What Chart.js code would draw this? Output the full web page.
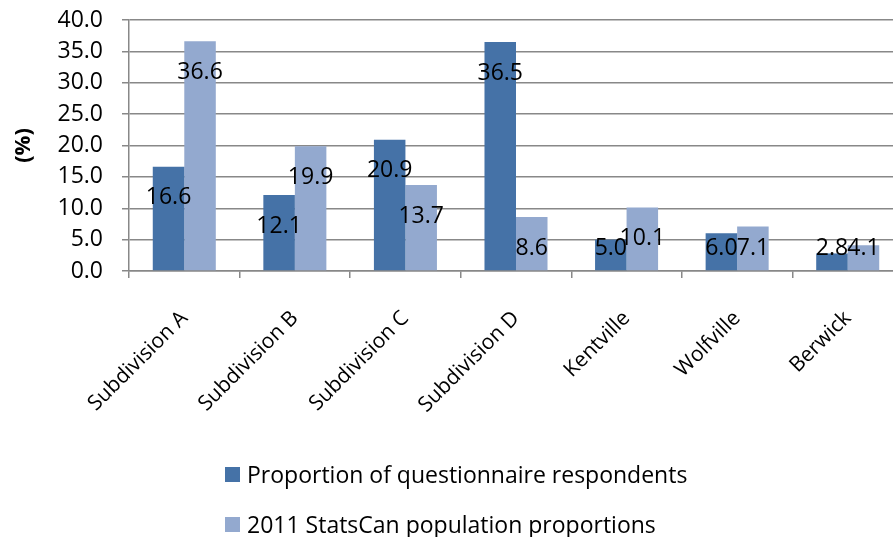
<!DOCTYPE html>
<html>
<head>
<meta charset="utf-8">
<script src="https://cdn.jsdelivr.net/npm/chart.js@4"></script>
<style>
  html, body { margin: 0; padding: 0; background: #fff; overflow: hidden; }
  #wrap { position: absolute; left: 0; top: 0; width: 903px; height: 537px; }
  .legend-row { position: absolute; left: 225px; font-family: "Open Sans", sans-serif; font-size: 23px; line-height: 26px; color: #000; display: flex; align-items: center; white-space: nowrap; }
  .legend-row span.box { display: inline-block; width: 15px; height: 15px; margin-right: 7px; }
</style>
</head>
<body>
<div id="wrap"><canvas id="chart"></canvas></div>
<div class="legend-row" style="top: 461px;"><span class="box" style="background:#4572A7"></span>Proportion of questionnaire respondents</div>
<div class="legend-row" style="top: 511px;"><span class="box" style="background:#93A9CF"></span>2011 StatsCan population proportions</div>
<script>
// Chart data
const categories = ['Subdivision A', 'Subdivision B', 'Subdivision C', 'Subdivision D', 'Kentville', 'Wolfville', 'Berwick'];
const respondents = [16.6, 12.1, 20.9, 36.5, 5.0, 6.0, 2.8];
const statsCan = [36.6, 19.9, 13.7, 8.6, 10.1, 7.1, 4.1];
const seriesNames = ['Proportion of questionnaire respondents', '2011 StatsCan population proportions'];

// Draw value labels inside the bars, a bit below the top
const valueLabels = {
    id: 'valueLabels',
    afterDatasetsDraw(chart) {
        const ctx = chart.ctx;
        const zeroY = chart.scales.y.getPixelForValue(0);
        ctx.save();
        ctx.font = '23px "Open Sans", sans-serif';
        ctx.fillStyle = '#000';
        ctx.textAlign = 'center';
        ctx.textBaseline = 'middle';
        chart.data.datasets.forEach((ds, i) => {
            chart.getDatasetMeta(i).data.forEach((bar, j) => {
                const y = Math.min(bar.y + 31, zeroY - 23);
                ctx.fillText(ds.data[j].toFixed(1), bar.x, y);
            });
        });
        ctx.restore();
    }
};

new Chart(document.getElementById('chart'), {
    type: 'bar',
    data: {
        labels: categories,
        datasets: [
            { label: seriesNames[0], data: respondents, backgroundColor: '#4572A7' },
            { label: seriesNames[1], data: statsCan, backgroundColor: '#93A9CF' }
        ]
    },
    options: {
        responsive: true,
        maintainAspectRatio: false,
        animation: false,
        categoryPercentage: 0.57,
        barPercentage: 1.0,
        layout: { padding: { top: 20, right: 0, bottom: 0, left: 0 } },
        scales: {
            x: {
                grid: { display: true, drawOnChartArea: false, drawTicks: true, tickLength: 7, color: '#888', lineWidth: 1.5 },
                border: { color: '#888', width: 1.5 },
                ticks: {
                    color: '#000',
                    font: { family: '"Open Sans", sans-serif', size: 21 },
                    minRotation: 45,
                    maxRotation: 45,
                    padding: 28
                },
                afterFit(scale) {
                    scale.height = 266;
                    scale.paddingLeft = 0;
                    scale.paddingRight = 0;
                }
            },
            y: {
                min: 0,
                max: 40,
                ticks: {
                    stepSize: 5,
                    autoSkip: false,
                    color: '#000',
                    font: { family: '"Open Sans", sans-serif', size: 23 },
                    padding: 19,
                    callback: function(value) { return value.toFixed(1); }
                },
                grid: { color: '#888', lineWidth: 1.5, tickLength: 7 },
                border: { color: '#888', width: 1.5 },
                title: {
                    display: true,
                    text: '(%)',
                    color: '#000',
                    font: { family: '"Open Sans", sans-serif', size: 22, weight: 'bold' },
                    padding: { top: 11, bottom: 0 }
                },
                afterFit(scale) {
                    scale.width = 129;
                    scale.paddingTop = 0;
                    scale.paddingBottom = 0;
                }
            }
        },
        plugins: {
            legend: { display: false },
            tooltip: { enabled: false }
        }
    },
    plugins: [valueLabels]
});
</script>
</body>
</html>
